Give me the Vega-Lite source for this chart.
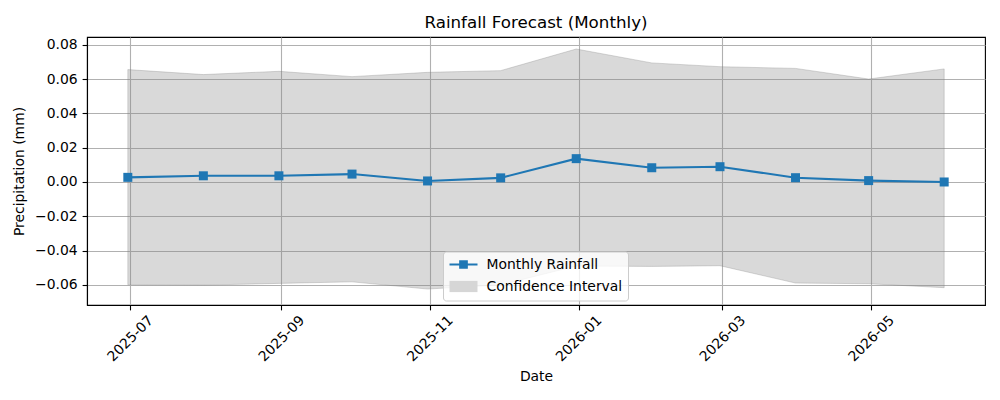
{
  "$schema": "https://vega.github.io/schema/vega-lite/v6.json",
  "width": 898,
  "height": 268,
  "autosize": {"type": "none"},
  "padding": {"left": 87, "top": 37, "right": 15, "bottom": 95},
  "background": "white",
  "title": {
    "text": "Rainfall Forecast (Monthly)",
    "font": "DejaVu Sans",
    "fontSize": 16.7,
    "fontWeight": "normal",
    "color": "black",
    "anchor": "middle",
    "frame": "group",
    "offset": 5
  },
  "config": {
    "view": {"stroke": "black", "strokeWidth": 1.1},
    "axis": {
      "labelFont": "DejaVu Sans",
      "labelFontSize": 13.9,
      "labelColor": "black",
      "titleFont": "DejaVu Sans",
      "titleFontSize": 13.9,
      "titleFontWeight": "normal",
      "titleColor": "black",
      "domainColor": "black",
      "domainWidth": 1.1,
      "tickColor": "black",
      "tickWidth": 1.1,
      "tickSize": 4.9,
      "labelPadding": 4.9,
      "labelOverlap": false,
      "labelFlush": false,
      "grid": true,
      "gridColor": "#b0b0b0",
      "gridWidth": 1.1
    }
  },
  "data": {
    "values": [
      {"date": "2025-06-30", "mean": 0.0027, "lower": -0.0599, "upper": 0.0655},
      {"date": "2025-07-31", "mean": 0.0036, "lower": -0.0601, "upper": 0.0626},
      {"date": "2025-08-31", "mean": 0.0036, "lower": -0.0591, "upper": 0.0645},
      {"date": "2025-09-30", "mean": 0.0046, "lower": -0.0582, "upper": 0.0614},
      {"date": "2025-10-31", "mean": 0.0006, "lower": -0.0624, "upper": 0.0639},
      {"date": "2025-11-30", "mean": 0.0024, "lower": -0.0600, "upper": 0.0649},
      {"date": "2025-12-31", "mean": 0.0136, "lower": -0.0490, "upper": 0.0775},
      {"date": "2026-01-31", "mean": 0.0083, "lower": -0.0492, "upper": 0.0694},
      {"date": "2026-02-28", "mean": 0.0089, "lower": -0.0488, "upper": 0.0672},
      {"date": "2026-03-31", "mean": 0.0025, "lower": -0.0589, "upper": 0.0662},
      {"date": "2026-04-30", "mean": 0.0008, "lower": -0.0593, "upper": 0.0600},
      {"date": "2026-05-31", "mean": 0.0000, "lower": -0.0616, "upper": 0.0659}
    ]
  },
  "encoding": {
    "x": {
      "field": "date",
      "type": "temporal",
      "scale": {
        "type": "utc",
        "domain": [
          {"year": 2025, "month": 6, "date": 13, "hours": 6, "utc": true},
          {"year": 2026, "month": 6, "date": 16, "hours": 18, "utc": true}
        ],
        "nice": false
      },
      "axis": {
        "title": "Date",
        "values": [
          {"year": 2025, "month": 7, "date": 1, "utc": true},
          {"year": 2025, "month": 9, "date": 1, "utc": true},
          {"year": 2025, "month": 11, "date": 1, "utc": true},
          {"year": 2026, "month": 1, "date": 1, "utc": true},
          {"year": 2026, "month": 3, "date": 1, "utc": true},
          {"year": 2026, "month": 5, "date": 1, "utc": true}
        ],
        "tickCount": 20,
        "labelExpr": "utcFormat(datum.value, '%Y-%m')",
        "labelAngle": -45,
        "labelAlign": "center",
        "labelBaseline": "middle",
        "labelPadding": 28.5,
        "titlePadding": 6
      }
    }
  },
  "layer": [
    {
      "mark": {
        "type": "area",
        "fill": "gray",
        "fillOpacity": 0.3,
        "stroke": "gray",
        "strokeOpacity": 0.3,
        "strokeWidth": 1
      },
      "encoding": {
        "y": {
          "field": "lower",
          "type": "quantitative",
          "scale": {"domain": [-0.0717, 0.0845], "nice": false, "zero": false},
          "axis": {
            "title": "Precipitation (mm)",
            "values": [-0.06, -0.04, -0.02, 0, 0.02, 0.04, 0.06, 0.08],
            "tickCount": 20,
            "format": ".2f",
            "titlePadding": 8
          }
        },
        "y2": {"field": "upper"}
      }
    },
    {
      "mark": {
        "type": "line",
        "color": "#1f77b4",
        "strokeWidth": 2.08,
        "point": {"shape": "square", "filled": true, "size": 81, "color": "#1f77b4", "opacity": 1}
      },
      "encoding": {
        "y": {"field": "mean", "type": "quantitative"}
      }
    },
    {
      "data": {"values": []},
      "mark": {"type": "point", "filled": true, "size": 196, "opacity": 1},
      "encoding": {
        "color": {
          "datum": "Monthly Rainfall",
          "type": "nominal",
          "scale": {
            "domain": ["Monthly Rainfall", "Confidence Interval"],
            "range": ["#1f77b4", "#d6d6d6"]
          },
          "legend": {
            "title": null,
            "orient": "none",
            "legendX": 356,
            "legendY": 214.5,
            "labelFont": "DejaVu Sans",
            "labelFontSize": 13.9,
            "labelColor": "black",
            "symbolSize": 196,
            "symbolOffset": 7.5,
            "symbolOpacity": 1,
            "labelOffset": 15,
            "padding": 5,
            "rowPadding": 5,
            "fillColor": "rgba(255,255,255,0.8)",
            "strokeColor": "#cccccc",
            "cornerRadius": 3
          }
        },
        "shape": {
          "datum": "Monthly Rainfall",
          "type": "nominal",
          "scale": {
            "domain": ["Monthly Rainfall", "Confidence Interval"],
            "range": [
              "M-2,-0.15H2V0.15H-2Z M-0.62,-0.62H0.62V0.62H-0.62Z",
              "M-2,-0.8H2V0.8H-2Z"
            ]
          },
          "legend": {
            "title": null,
            "orient": "none",
            "legendX": 356,
            "legendY": 214.5,
            "labelFont": "DejaVu Sans",
            "labelFontSize": 13.9,
            "labelColor": "black",
            "symbolSize": 196,
            "symbolOffset": 7.5,
            "symbolOpacity": 1,
            "labelOffset": 15,
            "padding": 5,
            "rowPadding": 5,
            "fillColor": "rgba(255,255,255,0.8)",
            "strokeColor": "#cccccc",
            "cornerRadius": 3
          }
        }
      }
    }
  ]
}
